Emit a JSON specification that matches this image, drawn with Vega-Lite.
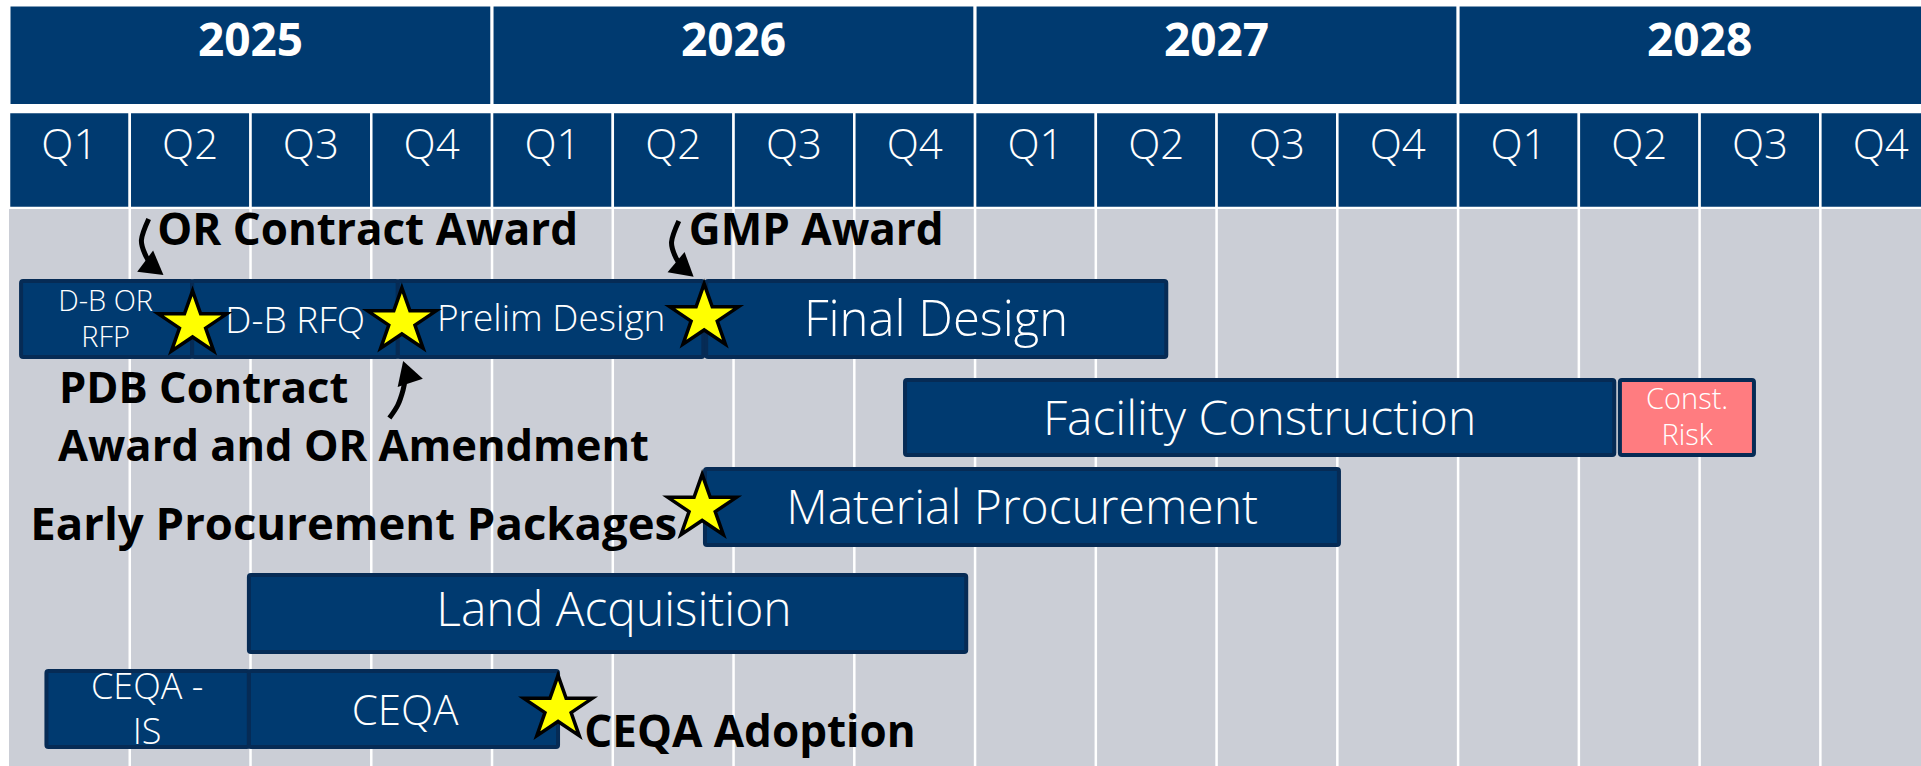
{
  "$schema": "https://vega.github.io/schema/vega-lite/v6.json",
  "width": 1912,
  "height": 760,
  "padding": {"left": 9, "top": 6, "right": 0, "bottom": 0},
  "autosize": {"type": "none"},
  "background": "white",
  "config": {"view": {"stroke": null}},
  "datasets": {
    "years": [
      {"label": "2025", "s": 0, "e": 12, "mid": 6},
      {"label": "2026", "s": 12, "e": 24, "mid": 18},
      {"label": "2027", "s": 24, "e": 36, "mid": 30},
      {"label": "2028", "s": 36, "e": 48, "mid": 42}
    ],
    "quarters": [
      {"label": "Q1", "s": 0, "e": 3, "mid": 1.5},
      {"label": "Q2", "s": 3, "e": 6, "mid": 4.5},
      {"label": "Q3", "s": 6, "e": 9, "mid": 7.5},
      {"label": "Q4", "s": 9, "e": 12, "mid": 10.5},
      {"label": "Q1", "s": 12, "e": 15, "mid": 13.5},
      {"label": "Q2", "s": 15, "e": 18, "mid": 16.5},
      {"label": "Q3", "s": 18, "e": 21, "mid": 19.5},
      {"label": "Q4", "s": 21, "e": 24, "mid": 22.5},
      {"label": "Q1", "s": 24, "e": 27, "mid": 25.5},
      {"label": "Q2", "s": 27, "e": 30, "mid": 28.5},
      {"label": "Q3", "s": 30, "e": 33, "mid": 31.5},
      {"label": "Q4", "s": 33, "e": 36, "mid": 34.5},
      {"label": "Q1", "s": 36, "e": 39, "mid": 37.5},
      {"label": "Q2", "s": 39, "e": 42, "mid": 40.5},
      {"label": "Q3", "s": 42, "e": 45, "mid": 43.5},
      {"label": "Q4", "s": 45, "e": 48, "mid": 46.5}
    ],
    "grid": [
      {"m": 3}, {"m": 6}, {"m": 9}, {"m": 12}, {"m": 15}, {"m": 18}, {"m": 21}, {"m": 24},
      {"m": 27}, {"m": 30}, {"m": 33}, {"m": 36}, {"m": 39}, {"m": 42}, {"m": 45}
    ],
    "tasks": [
      {"name": "D-B OR RFP", "s": 0.30, "e": 4.55, "top": 275, "bot": 351, "kind": "main"},
      {"name": "D-B RFQ", "s": 4.55, "e": 9.66, "top": 275, "bot": 351, "kind": "main"},
      {"name": "Prelim Design", "s": 9.66, "e": 17.25, "top": 275, "bot": 351, "kind": "main"},
      {"name": "Final Design", "s": 17.32, "e": 28.75, "top": 275, "bot": 351, "kind": "main"},
      {"name": "Facility Construction", "s": 22.26, "e": 39.88, "top": 374, "bot": 449, "kind": "main"},
      {"name": "Const. Risk", "s": 40.02, "e": 43.35, "top": 374, "bot": 449, "kind": "risk"},
      {"name": "Material Procurement", "s": 17.29, "e": 33.04, "top": 463, "bot": 539, "kind": "main"},
      {"name": "Land Acquisition", "s": 5.96, "e": 23.78, "top": 569, "bot": 646, "kind": "main"},
      {"name": "CEQA - IS", "s": 0.93, "e": 5.96, "top": 665, "bot": 741, "kind": "main"},
      {"name": "CEQA", "s": 5.96, "e": 13.64, "top": 665, "bot": 741, "kind": "main"}
    ],
    "labels": [
      {"text": "D-B OR", "x": 2.40, "y": 305, "size": 29},
      {"text": "RFP", "x": 2.40, "y": 341, "size": 29},
      {"text": "D-B RFQ", "x": 7.11, "y": 327, "size": 37},
      {"text": "Prelim Design", "x": 13.47, "y": 325, "size": 37},
      {"text": "Final Design", "x": 23.03, "y": 330, "size": 49},
      {"text": "Facility Construction", "x": 31.07, "y": 429, "size": 48},
      {"text": "Const.", "x": 41.69, "y": 403, "size": 29},
      {"text": "Risk", "x": 41.69, "y": 439, "size": 29},
      {"text": "Material Procurement", "x": 25.17, "y": 518, "size": 48},
      {"text": "Land Acquisition", "x": 15.03, "y": 620, "size": 48},
      {"text": "CEQA -", "x": 3.43, "y": 693, "size": 36},
      {"text": "IS", "x": 3.43, "y": 738, "size": 36},
      {"text": "CEQA", "x": 9.84, "y": 719, "size": 42}
    ],
    "notesLeft": [
      {"text": "OR Contract Award", "x": 3.68, "y": 239},
      {"text": "GMP Award", "x": 16.89, "y": 239},
      {"text": "CEQA Adoption", "x": 14.29, "y": 741}
    ],
    "notesPdb": [
      {"text": "PDB Contract", "x": 1.24, "y": 397},
      {"text": "Award and OR Amendment", "x": 1.22, "y": 455}
    ],
    "notesRight": [
      {"text": "Early Procurement Packages", "x": 16.6, "y": 534}
    ],
    "arrows": [
      {"id": "a1", "i": 0, "x": 3.47, "y": 213},
      {"id": "a1", "i": 1, "x": 3.29, "y": 234},
      {"id": "a1", "i": 2, "x": 3.40, "y": 250},
      {"id": "a1", "i": 3, "x": 3.55, "y": 259},
      {"id": "a2", "i": 0, "x": 9.45, "y": 412},
      {"id": "a2", "i": 1, "x": 9.66, "y": 399},
      {"id": "a2", "i": 2, "x": 9.79, "y": 384},
      {"id": "a2", "i": 3, "x": 9.85, "y": 371},
      {"id": "a3", "i": 0, "x": 16.64, "y": 215},
      {"id": "a3", "i": 1, "x": 16.46, "y": 236},
      {"id": "a3", "i": 2, "x": 16.57, "y": 252},
      {"id": "a3", "i": 3, "x": 16.72, "y": 260}
    ],
    "heads": [
      {"x": 3.61, "y": 262, "angle": 127},
      {"x": 9.88, "y": 366, "angle": -18},
      {"x": 16.79, "y": 263.5, "angle": 130}
    ],
    "stars": [
      {"x": 4.56, "y": 315},
      {"x": 9.76, "y": 312},
      {"x": 17.27, "y": 308},
      {"x": 17.22, "y": 498.5},
      {"x": 13.64, "y": 699.5}
    ]
  },
  "layer": [
    {
      "data": {"name": "years"},
      "mark": {"type": "rect", "fill": "#003a70", "stroke": "white", "strokeWidth": 3, "clip": true},
      "encoding": {
        "x": {"field": "s", "type": "quantitative", "axis": null, "scale": {"domain": [0, 47.5], "nice": false, "zero": false}},
        "x2": {"field": "e"},
        "y": {"datum": -1, "type": "quantitative", "axis": null, "scale": {"domain": [0, 760], "reverse": true, "nice": false, "zero": false}},
        "y2": {"datum": 99.5}
      }
    },
    {
      "data": {"name": "quarters"},
      "mark": {"type": "rect", "fill": "#003a70", "stroke": "white", "strokeWidth": 2.5, "clip": true},
      "encoding": {
        "x": {"field": "s", "type": "quantitative", "axis": null, "scale": {"domain": [0, 47.5], "nice": false, "zero": false}},
        "x2": {"field": "e"},
        "y": {"datum": 106, "type": "quantitative", "axis": null, "scale": {"domain": [0, 760], "reverse": true, "nice": false, "zero": false}},
        "y2": {"datum": 202}
      }
    },
    {
      "data": {"name": "years"},
      "mark": {"type": "text", "font": "Open Sans", "fontWeight": "bold", "fontSize": 46, "color": "white", "align": "center", "baseline": "alphabetic"},
      "encoding": {
        "x": {"field": "mid", "type": "quantitative", "axis": null, "scale": {"domain": [0, 47.5], "nice": false, "zero": false}},
        "y": {"datum": 50, "type": "quantitative", "axis": null, "scale": {"domain": [0, 760], "reverse": true, "nice": false, "zero": false}},
        "text": {"field": "label"}
      }
    },
    {
      "data": {"name": "quarters"},
      "mark": {"type": "text", "font": "Open Sans", "fontWeight": 300, "fontSize": 42, "color": "white", "align": "center", "baseline": "alphabetic"},
      "encoding": {
        "x": {"field": "mid", "type": "quantitative", "axis": null, "scale": {"domain": [0, 47.5], "nice": false, "zero": false}},
        "y": {"datum": 153, "type": "quantitative", "axis": null, "scale": {"domain": [0, 760], "reverse": true, "nice": false, "zero": false}},
        "text": {"field": "label"}
      }
    },
    {
      "data": {"values": [{"s": 0, "e": 47.5}]},
      "mark": {"type": "rect", "fill": "#cbced6"},
      "encoding": {
        "x": {"field": "s", "type": "quantitative", "axis": null, "scale": {"domain": [0, 47.5], "nice": false, "zero": false}},
        "x2": {"field": "e"},
        "y": {"datum": 203, "type": "quantitative", "axis": null, "scale": {"domain": [0, 760], "reverse": true, "nice": false, "zero": false}},
        "y2": {"datum": 761}
      }
    },
    {
      "data": {"name": "grid"},
      "mark": {"type": "rule", "color": "white", "strokeWidth": 2.5},
      "encoding": {
        "x": {"field": "m", "type": "quantitative", "axis": null, "scale": {"domain": [0, 47.5], "nice": false, "zero": false}},
        "y": {"datum": 202, "type": "quantitative", "axis": null, "scale": {"domain": [0, 760], "reverse": true, "nice": false, "zero": false}},
        "y2": {"datum": 761}
      }
    },
    {
      "data": {"name": "tasks"},
      "mark": {"type": "rect", "stroke": "#062b55", "strokeWidth": 4, "cornerRadius": 2},
      "encoding": {
        "x": {"field": "s", "type": "quantitative", "axis": null, "scale": {"domain": [0, 47.5], "nice": false, "zero": false}},
        "x2": {"field": "e"},
        "y": {"field": "top", "type": "quantitative", "axis": null, "scale": {"domain": [0, 760], "reverse": true, "nice": false, "zero": false}},
        "y2": {"field": "bot"},
        "fill": {"field": "kind", "type": "nominal", "scale": {"domain": ["main", "risk"], "range": ["#003a70", "#ff7c80"]}, "legend": null}
      }
    },
    {
      "data": {"name": "labels"},
      "mark": {"type": "text", "font": "Open Sans", "fontWeight": 300, "color": "white", "align": "center", "baseline": "alphabetic"},
      "encoding": {
        "x": {"field": "x", "type": "quantitative", "axis": null, "scale": {"domain": [0, 47.5], "nice": false, "zero": false}},
        "y": {"field": "y", "type": "quantitative", "axis": null, "scale": {"domain": [0, 760], "reverse": true, "nice": false, "zero": false}},
        "size": {"field": "size", "type": "quantitative", "scale": null},
        "text": {"field": "text"}
      }
    },
    {
      "data": {"name": "arrows"},
      "mark": {"type": "line", "color": "black", "strokeWidth": 5, "interpolate": "cardinal"},
      "encoding": {
        "x": {"field": "x", "type": "quantitative", "axis": null, "scale": {"domain": [0, 47.5], "nice": false, "zero": false}},
        "y": {"field": "y", "type": "quantitative", "axis": null, "scale": {"domain": [0, 760], "reverse": true, "nice": false, "zero": false}},
        "detail": {"field": "id"},
        "order": {"field": "i", "type": "quantitative"}
      }
    },
    {
      "data": {"name": "heads"},
      "mark": {"type": "point", "shape": "triangle-up", "filled": true, "color": "black", "opacity": 1, "size": 700},
      "encoding": {
        "x": {"field": "x", "type": "quantitative", "axis": null, "scale": {"domain": [0, 47.5], "nice": false, "zero": false}},
        "y": {"field": "y", "type": "quantitative", "axis": null, "scale": {"domain": [0, 760], "reverse": true, "nice": false, "zero": false}},
        "angle": {"field": "angle", "type": "quantitative", "scale": null}
      }
    },
    {
      "data": {"name": "notesLeft"},
      "mark": {"type": "text", "font": "Open Sans", "fontWeight": "bold", "fontSize": 44, "color": "black", "align": "left", "baseline": "alphabetic"},
      "encoding": {
        "x": {"field": "x", "type": "quantitative", "axis": null, "scale": {"domain": [0, 47.5], "nice": false, "zero": false}},
        "y": {"field": "y", "type": "quantitative", "axis": null, "scale": {"domain": [0, 760], "reverse": true, "nice": false, "zero": false}},
        "text": {"field": "text"}
      }
    },
    {
      "data": {"name": "notesPdb"},
      "mark": {"type": "text", "font": "Open Sans", "fontWeight": "bold", "fontSize": 43.5, "color": "black", "align": "left", "baseline": "alphabetic"},
      "encoding": {
        "x": {"field": "x", "type": "quantitative", "axis": null, "scale": {"domain": [0, 47.5], "nice": false, "zero": false}},
        "y": {"field": "y", "type": "quantitative", "axis": null, "scale": {"domain": [0, 760], "reverse": true, "nice": false, "zero": false}},
        "text": {"field": "text"}
      }
    },
    {
      "data": {"name": "notesRight"},
      "mark": {"type": "text", "font": "Open Sans", "fontWeight": "bold", "fontSize": 45.5, "color": "black", "align": "right", "baseline": "alphabetic"},
      "encoding": {
        "x": {"field": "x", "type": "quantitative", "axis": null, "scale": {"domain": [0, 47.5], "nice": false, "zero": false}},
        "y": {"field": "y", "type": "quantitative", "axis": null, "scale": {"domain": [0, 760], "reverse": true, "nice": false, "zero": false}},
        "text": {"field": "text"}
      }
    },
    {
      "data": {"name": "stars"},
      "mark": {"type": "point", "shape": "M0,-0.88L0.236,-0.208L1,-0.208L0.382,0.208L0.618,0.88L0,0.465L-0.618,0.88L-0.382,0.208L-1,-0.208L-0.236,-0.208Z", "filled": true, "fill": "#ffff00", "stroke": "black", "strokeWidth": 3.5, "opacity": 1, "size": 4700},
      "encoding": {
        "x": {"field": "x", "type": "quantitative", "axis": null, "scale": {"domain": [0, 47.5], "nice": false, "zero": false}},
        "y": {"field": "y", "type": "quantitative", "axis": null, "scale": {"domain": [0, 760], "reverse": true, "nice": false, "zero": false}}
      }
    }
  ]
}
